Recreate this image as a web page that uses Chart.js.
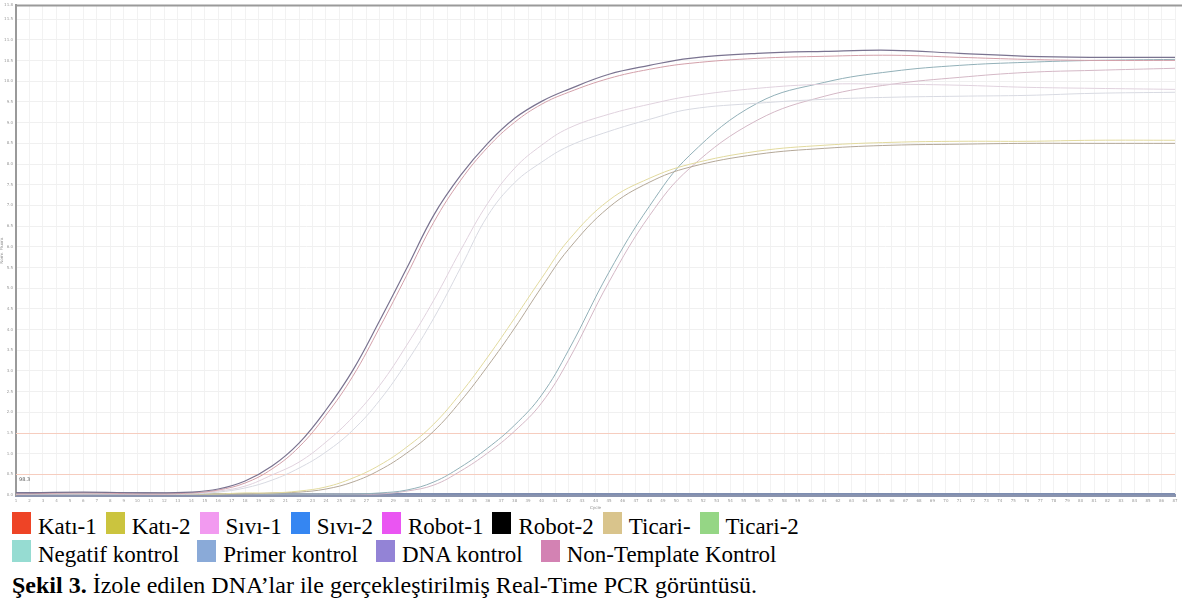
<!DOCTYPE html>
<html lang="tr">
<head>
<meta charset="utf-8">
<script src="https://cdn.jsdelivr.net/npm/chart.js@4.4.1/dist/chart.umd.min.js"></script>
<style>
  html, body { margin: 0; padding: 0; background: #fff; }
  body { width: 1182px; height: 602px; position: relative; overflow: hidden; color: #000; }
  .serif { font-family: "Liberation Serif", "Times New Roman", Tinos, "DejaVu Serif", serif; }
  #wrap { position: absolute; left: 0; top: 0; width: 1182px; height: 510px; }
  .row { position: absolute; left: 12px; display: flex; align-items: flex-start; font-size: 23px; line-height: 24px; white-space: nowrap; }
  .item { display: flex; align-items: flex-start; margin-right: 9px; }
  #row2 .item { margin-right: 18px; }
  .sw { width: 19px; height: 22px; margin-right: 7px; flex: none; }
  .txt { padding-top: 3px; }
  #row1 { top: 512px; }
  #row2 { top: 540px; }
  #caption { position: absolute; left: 12px; top: 573px; font-size: 24px; line-height: 24px; white-space: nowrap; }
</style>
</head>
<body>
<div id="wrap"><canvas id="pcr"></canvas></div>
<div class="row serif" id="row1"></div>
<div class="row serif" id="row2"></div>
<div id="caption" class="serif"><b>Şekil 3.</b> İzole edilen DNA’lar ile gerçekleştirilmiş Real-Time PCR görüntüsü.</div>
<script>
"use strict";

// ─── Data ──────────────────────────────────────────────────────────────────
const cycles = [0, 5, 10, 13, 15, 17, 19, 21, 23, 25, 27, 29, 31, 33, 35, 37, 39, 41, 44, 47, 50, 55, 60, 65, 70, 75, 80, 86];

const robot2 = [0.10,0.14,0.10,0.14,0.29,0.68,1.40,2.51,4.11,6.04,8.45,10.97,13.53,15.46,17.00,18.21,19.03,19.61,20.34,20.77,21.11,21.35,21.45,21.50,21.35,21.21,21.16,21.16];
const robot1 = [0.05,0.10,0.05,0.10,0.24,0.58,1.26,2.32,3.86,5.75,8.12,10.63,13.19,15.22,16.81,18.02,18.89,19.47,20.14,20.58,20.87,21.11,21.21,21.26,21.16,21.06,21.01,21.01];
const sivi1  = [0.05,0.10,0.05,0.10,0.19,0.43,0.97,1.59,2.56,3.77,5.31,7.25,9.42,11.84,14.10,15.80,16.91,17.73,18.41,18.89,19.28,19.66,19.86,19.86,19.81,19.71,19.66,19.61];
const sivi2  = [0.05,0.05,0.05,0.05,0.14,0.34,0.72,1.30,2.08,3.14,4.59,6.43,8.55,11.00,13.50,15.10,16.09,16.86,17.58,18.16,18.65,18.94,19.13,19.23,19.28,19.32,19.42,19.47];
const kati2  = [0.05,0.10,0.05,0.05,0.05,0.10,0.10,0.19,0.39,0.82,1.45,2.32,3.43,4.93,6.67,8.55,10.48,12.32,14.25,15.31,15.99,16.62,16.91,17.05,17.10,17.10,17.15,17.15];
const kati1  = [0.05,0.05,0.05,0.05,0.05,0.05,0.10,0.14,0.29,0.63,1.21,2.03,3.09,4.54,6.23,8.07,10.05,11.88,13.91,15.12,15.85,16.47,16.76,16.91,16.96,17.00,17.00,17.00];
const ticari2 = [0.05,0.05,0.05,0.05,0.05,0.05,0.05,0.05,0.05,0.05,0.10,0.24,0.63,1.35,2.27,3.38,4.83,7.00,10.77,13.96,16.43,18.94,19.95,20.48,20.77,20.92,21.01,21.06];
const ticari1 = [0.05,0.05,0.05,0.05,0.05,0.05,0.05,0.05,0.05,0.05,0.05,0.19,0.48,1.16,2.03,3.09,4.45,6.52,10.30,13.50,15.80,18.12,19.28,19.86,20.19,20.43,20.53,20.63];
const negatif = [0.08,0.10,0.07,0.06,0.06,0.05,0.06,0.05,0.06,0.05,0.05,0.06,0.05,0.05,0.06,0.05,0.05,0.06,0.05,0.06,0.05,0.05,0.06,0.05,0.05,0.06,0.05,0.05];
const primer  = [0.06,0.05,0.06,0.05,0.04,0.05,0.04,0.05,0.04,0.05,0.04,0.04,0.05,0.04,0.04,0.05,0.04,0.04,0.05,0.04,0.04,0.05,0.04,0.04,0.05,0.04,0.04,0.04];
const dnaKont = [0.10,0.12,0.09,0.08,0.07,0.07,0.06,0.07,0.06,0.06,0.07,0.06,0.06,0.07,0.06,0.06,0.07,0.06,0.06,0.07,0.06,0.06,0.07,0.06,0.06,0.07,0.06,0.06];
const ntc     = [0.03,0.03,0.03,0.03,0.03,0.03,0.03,0.03,0.03,0.03,0.03,0.03,0.03,0.03,0.03,0.03,0.03,0.03,0.03,0.03,0.03,0.03,0.03,0.03,0.03,0.03,0.03,0.03];

const thresholdLevels = [1.0, 3.0];
const thresholdText   = "98.3";

// legend below the picture (document figure legend)
const legendNames  = ["Katı-1", "Katı-2", "Sıvı-1", "Sıvı-2", "Robot-1", "Robot-2", "Ticari-", "Ticari-2",
                      "Negatif kontrol", "Primer kontrol", "DNA kontrol", "Non-Template Kontrol"];
const legendColors = ["#ee4426", "#cbc43e", "#f29af0", "#3586f2", "#ea55f2", "#000000", "#d9c48c", "#95d685",
                      "#96dcd2", "#8aaad8", "#9383d6", "#d382b3"];

// curve colours as they appear (washed out) in the screenshot
const series = [
  { name: "Robot-2",  data: robot2,  colour: "#7a7390", w: 1.2 },
  { name: "Robot-1",  data: robot1,  colour: "#d3a0aa", w: 1 },
  { name: "Sıvı-1",   data: sivi1,   colour: "#e0d2de", w: 1 },
  { name: "Sıvı-2",   data: sivi2,   colour: "#d8dae2", w: 1 },
  { name: "Katı-2",   data: kati2,   colour: "#e2da9e", w: 1 },
  { name: "Katı-1",   data: kati1,   colour: "#b4a898", w: 1 },
  { name: "Ticari-2", data: ticari2, colour: "#92b0b8", w: 1 },
  { name: "Ticari-",  data: ticari1, colour: "#d4b8c6", w: 1 },
  { name: "Negatif kontrol",      data: negatif, colour: "#7d8db0", w: 1.5 },
  { name: "Primer kontrol",       data: primer,  colour: "#8c96b8", w: 1.5 },
  { name: "DNA kontrol",          data: dnaKont, colour: "#606a8a", w: 1.2 },
  { name: "Non-Template Kontrol", data: ntc,     colour: "#a0a8c4", w: 1.5 },
];

// ─── Legend rows ───────────────────────────────────────────────────────────
function buildLegend(el, from, to) {
  el.innerHTML = legendNames.slice(from, to).map((n, i) =>
    `<div class="item"><div class="sw" style="background:${legendColors[from + i]}"></div><span class="txt">${n}</span></div>`
  ).join("");
}
buildLegend(document.getElementById("row1"), 0, 8);
buildLegend(document.getElementById("row2"), 8, 12);

// ─── Plugins: top frame + threshold lines ──────────────────────────────────
const framePlugin = {
  id: "frame",
  beforeDatasetsDraw(chart) {
    const { ctx, chartArea: a, scales: { y } } = chart;
    ctx.save();
    ctx.strokeStyle = "#f6cdbf";
    ctx.lineWidth = 1;
    thresholdLevels.forEach(v => {
      const py = Math.round(y.getPixelForValue(v)) + 0.5;
      ctx.beginPath(); ctx.moveTo(a.left, py); ctx.lineTo(a.right, py); ctx.stroke();
    });
    ctx.fillStyle = "#555";
    ctx.font = "5px 'DejaVu Sans'";
    ctx.textBaseline = "middle";
    ctx.fillText(thresholdText, a.left + 3, y.getPixelForValue(thresholdLevels[0]) + 5);
    ctx.restore();
  },
  afterDraw(chart) {
    const { ctx, chartArea: a } = chart;
    ctx.save();
    ctx.strokeStyle = "#9a9a9a";
    ctx.lineWidth = 2;
    ctx.beginPath(); ctx.moveTo(a.left - 1, a.top); ctx.lineTo(chart.width, a.top); ctx.stroke();
    ctx.restore();
  },
};

// ─── Chart ─────────────────────────────────────────────────────────────────
const ctx = document.getElementById("pcr").getContext("2d");
new Chart(ctx, {
  type: "line",
  data: {
    datasets: series.map(s => ({
      label: s.name,
      data: cycles.map((c, i) => ({ x: c, y: s.data[i] })),
      borderColor: s.colour,
      borderWidth: s.w,
      pointRadius: 0,
      tension: 0.4,
      fill: false,
    })),
  },
  options: {
    responsive: true,
    maintainAspectRatio: false,
    animation: false,
    layout: { padding: { top: 5, right: 7, left: 0, bottom: 0 } },
    plugins: { legend: { display: false }, tooltip: { enabled: false } },
    scales: {
      x: {
        type: "linear",
        min: 0, max: 86,
        afterFit: s => { s.height = 15; },
        grid: { color: "#f2f2f2", lineWidth: 1, drawTicks: false },
        border: { color: "#8a93ad", width: 3 },
        ticks: { stepSize: 1, autoSkip: false, maxRotation: 0, padding: 4,
                 color: "#999", font: { size: 4, family: "DejaVu Sans" },
                 callback: v => String(v + 1) },
        title: { display: true, text: "Cycle", color: "#888", padding: 0,
                 font: { size: 4, family: "DejaVu Sans" } },
      },
      y: {
        min: 0, max: 23.67,
        afterFit: s => { s.width = 16; },
        grid: {
          color: c => (c.tick && thresholdLevels.includes(c.tick.value)) ? "rgba(0,0,0,0)" : "#f0f0f0",
          lineWidth: 1, drawTicks: false,
        },
        border: { color: "#9a9a9a", width: 2 },
        ticks: { stepSize: 1, padding: 3, color: "#999", font: { size: 4, family: "DejaVu Sans" },
                 callback: v => (v * 0.5).toFixed(1) },
        title: { display: true, text: "Norm. Fluoro.", color: "#888", padding: 0,
                 font: { size: 4, family: "DejaVu Sans" } },
      },
    },
  },
  plugins: [framePlugin],
});
</script>
</body>
</html>
